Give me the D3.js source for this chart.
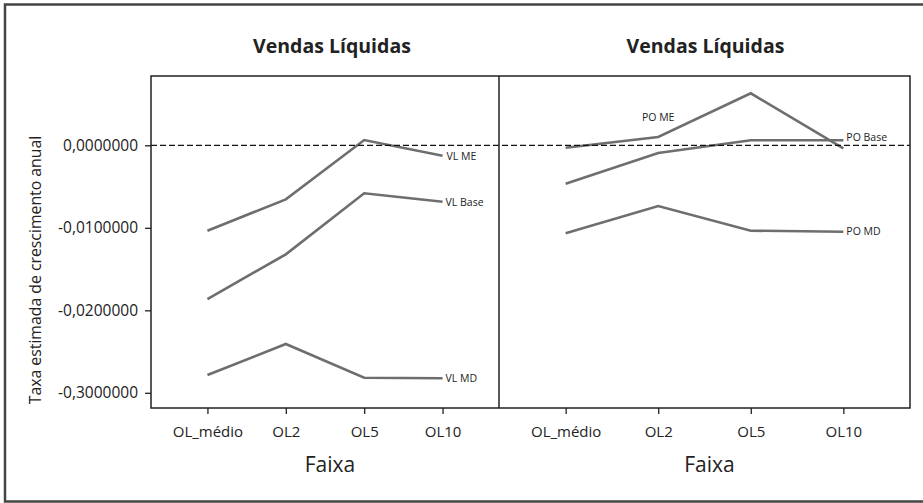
<!DOCTYPE html>
<html>
<head>
<meta charset="utf-8">
<script src="https://cdn.jsdelivr.net/npm/d3@7"></script>
<style>
  body { margin: 0; background: #fff; }
  text { font-family: "Open Sans", "Noto Sans", sans-serif; fill: #222; }
</style>
</head>
<body>
<div id="chart"></div>
<script>
// data
let categories = ["OL_médio", "OL2", "OL5", "OL10"];
let panelTitles = ["Vendas Líquidas", "Vendas Líquidas"];
let vlME   = [-0.01035, -0.00655, 0.00064, -0.00126];
let vlBase = [-0.01863, -0.01321, -0.00582, -0.00684];
let vlMD   = [-0.02784, -0.02408, -0.02817, -0.02824];
let poME   = [-0.00029, 0.00101, 0.00630, -0.00036];
let poBase = [-0.00465, -0.00093, 0.00061, 0.00061];
let poMD   = [-0.01067, -0.00736, -0.01035, -0.01047];
let yTickValues = [0, -0.01, -0.02, -0.03];
let yTickLabels = ["0,0000000", "-0,0100000", "-0,0200000", "-0,3000000"];

let width = 923;
let height = 503;
let plotTop = 76, plotBottom = 408;
let panelEdges = [151, 499, 910];
let lineColor = "#6e6e6e";

let svg = d3.select("#chart").append("svg")
  .attr("width", width)
  .attr("height", height);

// outer frame
svg.append("rect")
  .attr("x", 5).attr("y", 4.5)
  .attr("width", 940).attr("height", 497)
  .attr("fill", "none")
  .attr("stroke", "#444")
  .attr("stroke-width", 2.5);

let y = d3.scaleLinear().domain([-0.03184, 0.0084]).range([plotBottom, plotTop]);

// panels: series + label placement (label offsets relative to a point)
let panels = [
  {title: panelTitles[0], shift: 7, series: [
    {name: "VL ME",   values: vlME,   at: 3, dx: 4, dy: 1, anchor: "start"},
    {name: "VL Base", values: vlBase, at: 3, dx: 3, dy: 1, anchor: "start"},
    {name: "VL MD",   values: vlMD,   at: 3, dx: 3, dy: 0, anchor: "start"}
  ]},
  {title: panelTitles[1], shift: 1, series: [
    {name: "PO ME",   values: poME,   at: 1, dx: 0, dy: -20, anchor: "middle"},
    {name: "PO Base", values: poBase, at: 3, dx: 3, dy: -3, anchor: "start"},
    {name: "PO MD",   values: poMD,   at: 3, dx: 3, dy: 0, anchor: "start"}
  ]}
];

panels.forEach((p, i) => {
  let x0 = panelEdges[i], x1 = panelEdges[i + 1];
  let x = d3.scalePoint().domain(categories).range([x0, x1]).padding(0.72);
  let g = svg.append("g");

  // x axis
  let xAxis = g.append("g")
    .attr("transform", "translate(0," + plotBottom + ")")
    .call(d3.axisBottom(x).tickSize(6).tickSizeOuter(0).tickPadding(12));
  xAxis.select(".domain").remove();
  xAxis.selectAll("line").attr("stroke", "#222").attr("stroke-width", 1.3);
  xAxis.selectAll("text").attr("font-size", 15).attr("font-family", "Open Sans").attr("fill", "#222");

  g.append("text")
    .attr("x", (x0 + x1) / 2 + 5)
    .attr("y", 472)
    .attr("text-anchor", "middle")
    .attr("font-size", 21)
    .text("Faixa");

  g.append("text")
    .attr("x", (x0 + x1) / 2 + p.shift)
    .attr("y", 52.5)
    .attr("text-anchor", "middle")
    .attr("font-size", 19.5)
    .attr("font-weight", "bold")
    .text(p.title);

  let line = d3.line()
    .x((d, j) => x(categories[j]))
    .y(d => y(d));

  g.selectAll("path.series")
    .data(p.series)
    .enter()
    .append("path")
    .attr("class", "series")
    .attr("d", d => line(d.values))
    .attr("fill", "none")
    .attr("stroke", lineColor)
    .attr("stroke-width", 2.6);

  g.selectAll("text.lbl")
    .data(p.series)
    .enter()
    .append("text")
    .attr("class", "lbl")
    .attr("x", d => x(categories[d.at]) + d.dx)
    .attr("y", d => y(d.values[d.at]) + d.dy)
    .attr("dy", ".35em")
    .attr("text-anchor", d => d.anchor)
    .attr("font-size", 10.5)
    .text(d => d.name);
});

// zero reference line
svg.append("line")
  .attr("x1", panelEdges[0]).attr("x2", panelEdges[2])
  .attr("y1", y(0)).attr("y2", y(0))
  .attr("stroke", "#111")
  .attr("stroke-width", 1.2)
  .attr("stroke-dasharray", "6,3");

// y axis
let yAxis = svg.append("g")
  .attr("transform", "translate(" + panelEdges[0] + ",0)")
  .call(d3.axisLeft(y).tickValues(yTickValues)
    .tickFormat((d, i) => yTickLabels[i])
    .tickSize(6).tickSizeOuter(0).tickPadding(7));
yAxis.select(".domain").remove();
yAxis.selectAll("line").attr("stroke", "#222").attr("stroke-width", 1.3);
yAxis.selectAll("text").attr("font-size", 15.5).attr("font-family", "Open Sans").attr("fill", "#222");

svg.append("text")
  .attr("transform", "translate(41,270) rotate(-90)")
  .attr("text-anchor", "middle")
  .attr("font-size", 15.8)
  .text("Taxa estimada de crescimento anual");

// plot frame and divider
svg.append("rect")
  .attr("x", panelEdges[0]).attr("y", plotTop)
  .attr("width", panelEdges[2] - panelEdges[0])
  .attr("height", plotBottom - plotTop)
  .attr("fill", "none")
  .attr("stroke", "#222")
  .attr("stroke-width", 1.5);
svg.append("line")
  .attr("x1", panelEdges[1]).attr("x2", panelEdges[1])
  .attr("y1", plotTop).attr("y2", plotBottom)
  .attr("stroke", "#222")
  .attr("stroke-width", 1.5);
</script>
</body>
</html>
